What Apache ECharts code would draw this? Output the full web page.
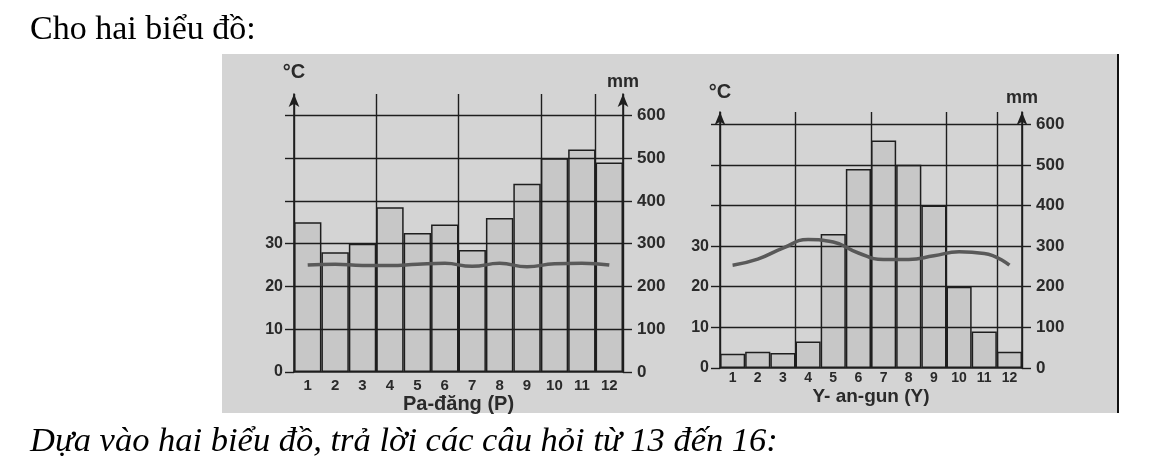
<!DOCTYPE html>
<html><head><meta charset="utf-8">
<script src="https://cdn.jsdelivr.net/npm/echarts@6/dist/echarts.min.js"></script>
<style>html,body{margin:0;padding:0;background:#fff}#c{width:1156px;height:469px}</style>
</head><body><div id="c"></div><script>
// ---- data ----
const months = ['1','2','3','4','5','6','7','8','9','10','11','12'];
const padangRain = [350, 280, 300, 385, 325, 345, 285, 360, 440, 500, 520, 490];   // mm
const padangTemp = [25.0, 25.2, 24.9, 24.9, 25.2, 25.4, 24.7, 25.4, 24.6, 25.3, 25.4, 25.0]; // °C
const yangonRain = [35, 40, 37, 65, 330, 490, 560, 500, 400, 200, 90, 40];           // mm
const yangonTemp = [25.3, 26.8, 29.5, 31.6, 31.0, 28.3, 26.7, 26.7, 27.6, 28.6, 28.2, 25.3]; // °C
const tempLabels = [0, 10, 20, 30];
const tempTicks = [0, 10, 20, 30, 40, 50, 60];
const rainTicks = [0, 100, 200, 300, 400, 500, 600];
const padangName = 'Pa-đăng (P)';
const yangonName = 'Y- an-gun (Y)';
const titleText = 'Cho hai biểu đồ:';
const footText = 'Dựa vào hai biểu đồ, trả lời các câu hỏi từ 13 đến 16:';

const INK = '#1e1e1e';
const TXT = '#2a2a2a';
const FONT = 'Liberation Sans, Arial, sans-serif';

function grid(left, top, width, height) {
  return { left, top, width, height, containLabel: false, outerBoundsMode: 'none' };
}
function xAxis(gi, name, fs, nfs, margin, gap) {
  return {
    type: 'category', gridIndex: gi, data: months, boundaryGap: true,
    name, nameLocation: 'middle', nameGap: gap, nameMoveOverlap: false,
    nameTextStyle: { color: TXT, fontFamily: FONT, fontSize: nfs, fontWeight: 'bold' },
    axisLine: { lineStyle: { color: INK, width: 1.6 } },
    axisTick: { show: false },
    axisLabel: { color: TXT, fontFamily: FONT, fontSize: fs, fontWeight: 'bold', margin, interval: 0 },
    splitLine: { show: true, interval: 2, lineStyle: { color: INK, width: 1.4 } }
  };
}
function tempAxis(gi, maxT, nameGap) {
  return {
    type: 'value', gridIndex: gi, position: 'left', min: 0, max: maxT, interval: 10,
    name: '°C', nameLocation: 'end', nameGap, nameMoveOverlap: false,
    nameTextStyle: { color: TXT, fontFamily: FONT, fontSize: 20, fontWeight: 'bold' },
    axisLine: { show: true, onZero: false, symbol: ['none', 'arrow'], symbolSize: [8, 13], lineStyle: { color: INK, width: 1.6 } },
    axisTick: { show: true, inside: false, length: 9, customValues: tempTicks, lineStyle: { color: INK, width: 1.4 } },
    axisLabel: { color: TXT, fontFamily: FONT, fontSize: 16, fontWeight: 'bold', margin: 11, customValues: tempLabels,
      formatter: v => (tempLabels.indexOf(v) >= 0 ? String(v) : '') },
    splitLine: { show: false }
  };
}
function rainAxis(gi, maxR, nameGap) {
  return {
    type: 'value', gridIndex: gi, position: 'right', min: 0, max: maxR, interval: 100,
    name: 'mm', nameLocation: 'end', nameGap, nameMoveOverlap: false,
    nameTextStyle: { color: TXT, fontFamily: FONT, fontSize: 18, fontWeight: 'bold' },
    axisLine: { show: true, onZero: false, symbol: ['none', 'arrow'], symbolSize: [8, 13], lineStyle: { color: INK, width: 1.6 } },
    axisTick: { show: true, inside: false, length: 9, customValues: rainTicks, lineStyle: { color: INK, width: 1.4 } },
    axisLabel: { color: TXT, fontFamily: FONT, fontSize: 17, fontWeight: 'bold', margin: 14, customValues: rainTicks,
      formatter: v => (rainTicks.indexOf(v) >= 0 ? String(v) : '') },
    splitLine: { show: true, showMinLine: false, showMaxLine: true, lineStyle: { color: INK, width: 1.4 } }
  };
}
function bars(xi, yi, data) {
  return {
    type: 'bar', xAxisIndex: xi, yAxisIndex: yi, data, barCategoryGap: '0%',
    itemStyle: { color: 'rgba(0,0,0,0.06)', borderColor: INK, borderWidth: 1.5 }
  };
}
function line(xi, yi, data) {
  return {
    type: 'line', xAxisIndex: xi, yAxisIndex: yi, data, smooth: true, symbol: 'none', z: 8,
    lineStyle: { color: '#595959', width: 3.5 }
  };
}

const chart = echarts.init(document.getElementById('c'), null, { renderer: 'canvas' });
chart.setOption({
  animation: false,
  backgroundColor: '#ffffff',
  graphic: [
    { type: 'rect', z: -100, shape: { x: 222, y: 54, width: 896, height: 359 }, style: { fill: '#d4d4d4' } },
    { type: 'rect', z: -99, shape: { x: 1117, y: 54, width: 2, height: 359 }, style: { fill: '#111' } },
    { type: 'text', left: 30, top: 13, style: { text: titleText, fill: '#000', font: '34px "Liberation Serif", "Times New Roman", serif' } },
    { type: 'text', left: 30, top: 424, style: { text: footText, fill: '#000', font: 'italic 34.5px "Liberation Serif", "Times New Roman", serif' } }
  ],
  grid: [grid(294, 94, 329, 278), grid(720, 112, 302, 256)],
  xAxis: [xAxis(0, padangName, 15, 20, 6, 22), xAxis(1, yangonName, 14, 19, 3, 19)],
  yAxis: [tempAxis(0, 65, 12), rainAxis(0, 650, 3), tempAxis(1, 63, 10), rainAxis(1, 630, 5)],
  series: [
    bars(0, 1, padangRain), line(0, 0, padangTemp),
    bars(1, 3, yangonRain), line(1, 2, yangonTemp)
  ]
});
</script></body></html>
